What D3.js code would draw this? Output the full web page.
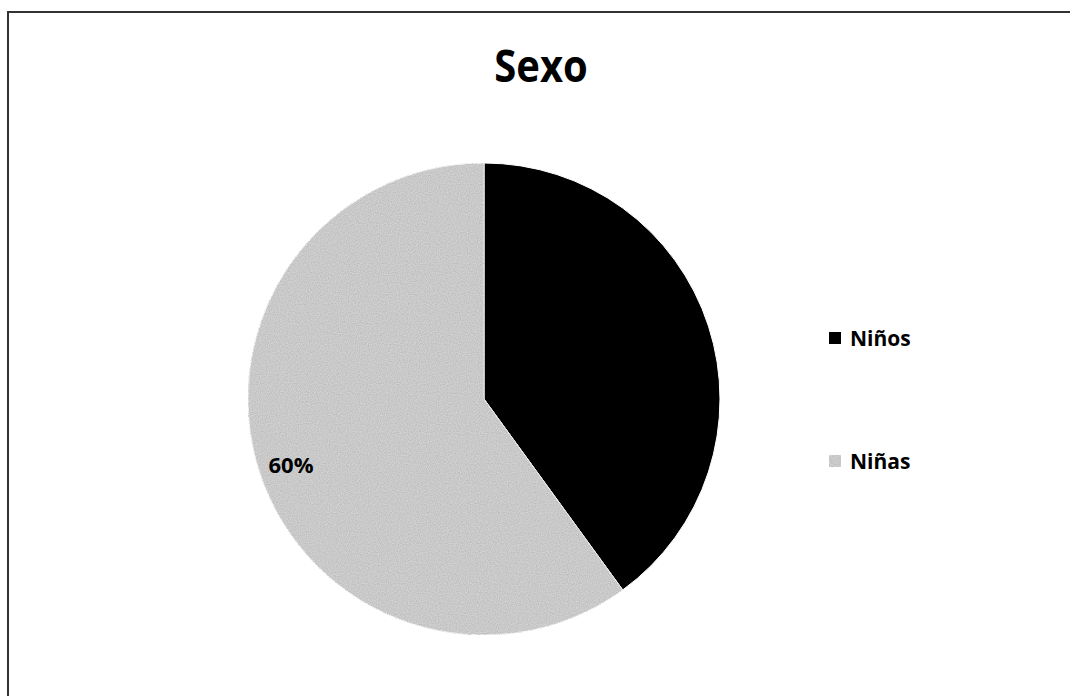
<!DOCTYPE html>
<html>
<head>
<meta charset="utf-8">
<script src="https://cdn.jsdelivr.net/npm/d3@7"></script>
<style>
html,body{margin:0;padding:0;background:#fff;}
svg{display:block;}
</style>
</head>
<body>
<svg id="chart" width="1070" height="696"></svg>
<script>
const title = "Sexo";
const categories = ["Niños", "Niñas"];
const values = [40, 60];
const labels = ["40%", "60%"];
const colors = ["#000000", "#d2d2d2"];

const svg = d3.select("#chart");
const W = 1070, H = 696;
const FONT = "'Open Sans', 'Noto Sans', sans-serif";

// frame
svg.append("path")
  .attr("d", `M8,${H} L8,12 L${W},12`)
  .attr("fill", "none")
  .attr("stroke", "#333")
  .attr("stroke-width", 2);

svg.append("text")
  .attr("transform", "translate(541,82) scale(1,1.12)")
  .attr("text-anchor", "middle")
  .attr("font-family", FONT)
  .attr("font-weight", "bold")
  .attr("font-size", 40)
  .attr("fill", "#000")
  .text(title);

const cx = 484, cy = 399, r = 236;
const pie = d3.pie().sort(null).value(d => d);
const arcs = pie(values);
const arc = d3.arc().innerRadius(0).outerRadius(r);
const labelArc = d3.arc().innerRadius(r * 0.86).outerRadius(r * 0.86);

const defs = svg.append("defs");
const f = defs.append("filter").attr("id", "grain").attr("x", 0).attr("y", 0).attr("width", 1).attr("height", 1);
f.append("feTurbulence").attr("type", "fractalNoise").attr("baseFrequency", 0.9).attr("numOctaves", 1).attr("seed", 3).attr("result", "n");
f.append("feColorMatrix").attr("in", "n").attr("type", "matrix")
  .attr("values", "0 0 0 0 0.45  0 0 0 0 0.45  0 0 0 0 0.45  0 0 0 -1.6 1.1").attr("result", "dots");
f.append("feComposite").attr("in", "dots").attr("in2", "SourceGraphic").attr("operator", "in").attr("result", "dd");
f.append("feMerge").selectAll("feMergeNode").data(["SourceGraphic", "dd"]).join("feMergeNode").attr("in", d => d);

const g = svg.append("g").attr("transform", `translate(${cx},${cy})`);
g.selectAll("path.slice")
  .data(arcs)
  .join("path")
  .attr("class", "slice")
  .attr("d", arc)
  .attr("fill", (d, i) => colors[i])
  .attr("filter", (d, i) => i === 1 ? "url(#grain)" : null)
  .attr("stroke", "#fff")
  .attr("stroke-width", 1);

g.selectAll("text.lbl")
  .data(arcs)
  .join("text")
  .attr("class", "lbl")
  .attr("transform", d => `translate(${labelArc.centroid(d)})`)
  .attr("text-anchor", "middle")
  .attr("dy", "0.5em")
  .attr("font-family", FONT)
  .attr("font-weight", "bold")
  .attr("font-size", 22)
  .attr("fill", "#000")
  .text((d, i) => labels[i]);

// legend
const legendY = d3.scalePoint().domain(categories).range([338, 461]);
const lg = svg.append("g");
const items = lg.selectAll("g").data(categories).join("g")
  .attr("transform", d => `translate(829,${legendY(d)})`);
items.append("rect")
  .attr("x", 0).attr("y", -6).attr("width", 12).attr("height", 12)
  .attr("fill", (d, i) => colors[i])
  .attr("filter", (d, i) => i === 1 ? "url(#grain)" : null);
items.append("text")
  .attr("x", 21).attr("y", 0).attr("dy", "0.36em")
  .attr("font-family", FONT)
  .attr("font-weight", "bold")
  .attr("font-size", 21)
  .attr("fill", "#000")
  .text(d => d);
</script>
</body>
</html>
